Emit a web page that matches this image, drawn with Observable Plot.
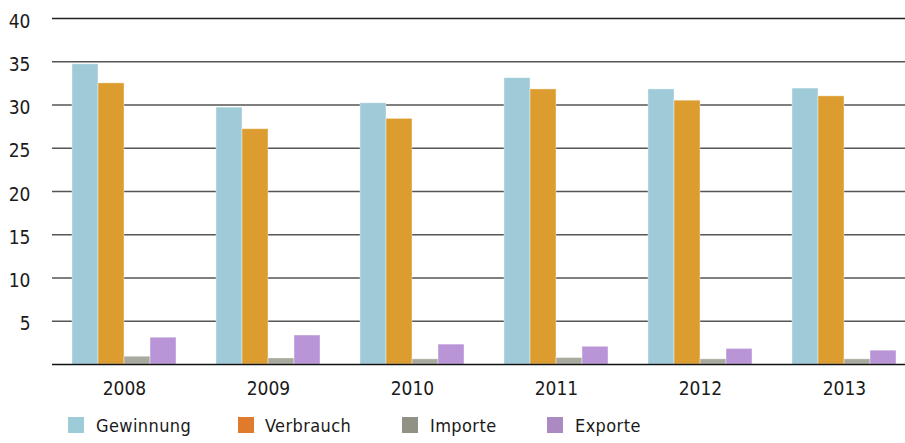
<!DOCTYPE html>
<html>
<head>
<meta charset="utf-8">
<script src="https://cdn.jsdelivr.net/npm/d3@7"></script>
<script src="https://cdn.jsdelivr.net/npm/@observablehq/plot@0.6"></script>
<style>
  html, body { margin: 0; padding: 0; background: #fff; overflow: hidden; width: 905px; height: 443px; }
  #wrap { position: relative; width: 905px; height: 443px; overflow: hidden; }
  #legend { position: absolute; left: 0; top: 0; width: 905px; height: 443px; pointer-events: none;
    font-family: "DejaVu Sans", sans-serif; font-stretch: condensed; font-size: 18px; color: #1a1a1a; letter-spacing: 0.4px; }
  .sw { position: absolute; top: 417px; width: 16px; height: 16px; }
  .lt { position: absolute; top: 414px; line-height: 24px; }
  svg text { font-stretch: condensed; }
</style>
</head>
<body>
<div id="wrap"><div id="chart"></div><div id="legend"></div></div>
<script>
const years = ["2008", "2009", "2010", "2011", "2012", "2013"];
const series = ["Gewinnung", "Verbrauch", "Importe", "Exporte"];
const gewinnung = [34.7, 29.7, 30.2, 33.1, 31.8, 31.9];
const verbrauch = [32.5, 27.2, 28.4, 31.8, 30.5, 31.0];
const importe = [0.9, 0.7, 0.6, 0.75, 0.6, 0.6];
const exporte = [3.1, 3.35, 2.3, 2.05, 1.8, 1.6];
const yTicks = [5, 10, 15, 20, 25, 30, 35, 40];
const barColors = ["#9ecbd7", "#dc9c30", "#a9a99e", "#b994d7"];
const legendColors = ["#9dcbd8", "#e07b2d", "#919185", "#aa8ac1"];

const valuesBySeries = [gewinnung, verbrauch, importe, exporte];
const bandWidth = 104; // group width in px (style)
const barW = bandWidth / series.length;

const barMarks = series.map((s, j) =>
  Plot.barY(years.map((y, i) => ({ year: y, value: valuesBySeries[j][i] })), {
    x: "year", y: "value", fill: barColors[j],
    insetLeft: barW * j, insetRight: barW * (series.length - 1 - j),
    stroke: "#fff", strokeOpacity: 0.5, strokeWidth: 0.8
  })
);

const plot = Plot.plot({
  width: 916,
  height: 405,
  marginLeft: 52,
  marginRight: 0,
  marginTop: 18,
  marginBottom: 41,
  style: { fontFamily: "'DejaVu Sans', sans-serif", fontSize: "19px", color: "#1a1a1a", background: "#fff", maxWidth: "none" },
  x: { domain: years, paddingInner: 0.278, paddingOuter: 0.139, label: null, axis: null },
  y: { domain: [0, 40], axis: null },
  marks: [
    Plot.ruleY(yTicks.filter(t => t < 40), { stroke: "#555", strokeWidth: 1.4 }),
    Plot.ruleY([40], { stroke: "#222", strokeWidth: 1.4 }),
    ...barMarks,
    Plot.ruleY([0], { stroke: "#111", strokeWidth: 1.6 }),
    Plot.axisY(yTicks, { tickSize: 0, tickPadding: 22, dy: 3, label: null, fontSize: 19 }),
    Plot.axisX({ tickSize: 0, tickPadding: 17, label: null, fontSize: 19 })
  ]
});
plot.style.maxWidth = "none";
plot.style.width = "916px";
plot.style.height = "405px";
document.getElementById("chart").appendChild(plot);

const legendPos = [[68, 96], [238, 265], [402, 430], [547, 575]];
const legend = document.getElementById("legend");
series.forEach((s, j) => {
  const sw = document.createElement("div");
  sw.className = "sw";
  sw.style.left = legendPos[j][0] + "px";
  sw.style.background = legendColors[j];
  legend.appendChild(sw);
  const t = document.createElement("div");
  t.className = "lt";
  t.style.left = legendPos[j][1] + "px";
  t.textContent = s;
  legend.appendChild(t);
});
</script>
</body>
</html>
